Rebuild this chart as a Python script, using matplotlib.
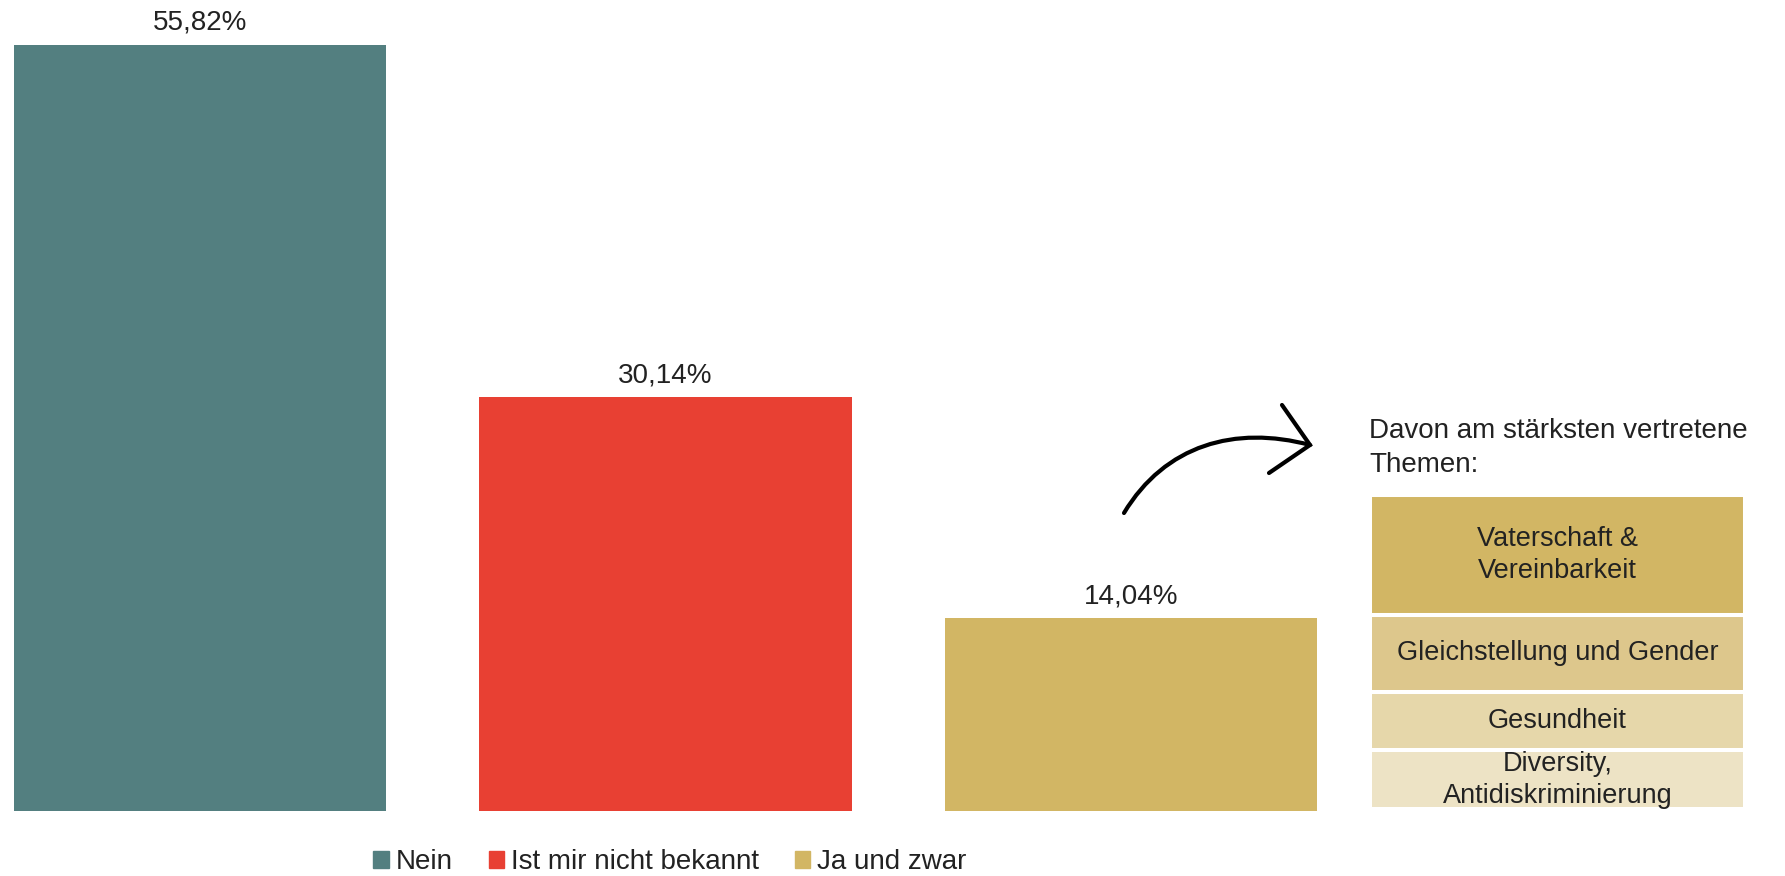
import numpy as np
import matplotlib
matplotlib.use("Agg")
import matplotlib.pyplot as plt
from matplotlib.patches import Patch
from matplotlib.path import Path
from matplotlib.patches import PathPatch

plt.rcParams['font.family'] = ['Liberation Sans', 'DejaVu Sans']

# Daten
categories = ['Nein', 'Ist mir nicht bekannt', 'Ja und zwar']
shares = [55.82, 30.14, 14.04]
share_labels = ['55,82%', '30,14%', '14,04%']
bar_colors = ['#537F80', '#E84033', '#D2B664']

themes = ['Vaterschaft &\nVereinbarkeit', 'Gleichstellung und Gender',
          'Gesundheit', 'Diversity,\nAntidiskriminierung']
theme_sizes = [118, 76, 58, 58]
theme_colors = ['#D2B664', '#DDC78C', '#E6D7AA', '#EDE3C5']

W, H = 1785, 876
fig = plt.figure(figsize=(W / 100, H / 100), dpi=100)

# Hauptdiagramm
ax = fig.add_axes([0, 65 / H, 1340 / W, 796 / H])
x = np.arange(len(categories))
bars = ax.bar(x, shares, width=0.8, color=bar_colors)
for b, lab in zip(bars, share_labels):
    ax.annotate(lab, (b.get_x() + b.get_width() / 2, b.get_height()),
                xytext=(0, 11), textcoords='offset points',
                ha='center', va='baseline', fontsize=20, color='#222222')
ax.set_xlim(-0.430, 2.449)
ax.set_ylim(0, 58)
ax.axis('off')

# Themen-Kasten rechts
ax2 = fig.add_axes([1370 / W, (H - 809) / H, 375 / W, 314 / H])
bottoms = np.cumsum([0] + theme_sizes[::-1][:-1])
for t, s, c, btm in zip(themes[::-1], theme_sizes[::-1], theme_colors[::-1], bottoms):
    ax2.bar(0, s, bottom=btm, width=1, color=c, edgecolor='white', linewidth=2.9)
    ax2.text(0, btm + s / 2, t, ha='center', va='center', fontsize=19.5,
             color='#222222', linespacing=1.3)
ax2.set_xlim(-0.5, 0.5)
ax2.set_ylim(0, sum(theme_sizes))
ax2.axis('off')

# Overlay für Pfeil und Überschrift (Pixelkoordinaten)
ov = fig.add_axes([0, 0, 1, 1])
ov.set_xlim(0, W)
ov.set_ylim(H, 0)
ov.axis('off')
ov.patch.set_alpha(0)

curve = Path([(1124, 513), (1165, 445), (1235, 425), (1310, 445)],
             [Path.MOVETO, Path.CURVE4, Path.CURVE4, Path.CURVE4])
ov.add_patch(PathPatch(curve, fill=False, lw=3, color='black', capstyle='round'))
ov.plot([1282, 1310, 1269], [405, 445, 473], color='black', lw=3,
        solid_capstyle='round', solid_joinstyle='miter')

ov.text(1369, 418, 'Davon am stärksten vertretene\nThemen:', ha='left', va='top',
        fontsize=20, color='#222222', linespacing=1.4)

# Legende
handles = [Patch(color=c, label=l) for c, l in zip(bar_colors, categories)]
fig.legend(handles=handles, loc='center', bbox_to_anchor=(670 / W, 14 / H),
           ncol=3, frameon=False, fontsize=20, handlelength=0.55,
           handleheight=0.55, handletextpad=0.25, columnspacing=1.3,
           borderpad=0, labelcolor='#222222')

fig.savefig('out.png', dpi=100)
